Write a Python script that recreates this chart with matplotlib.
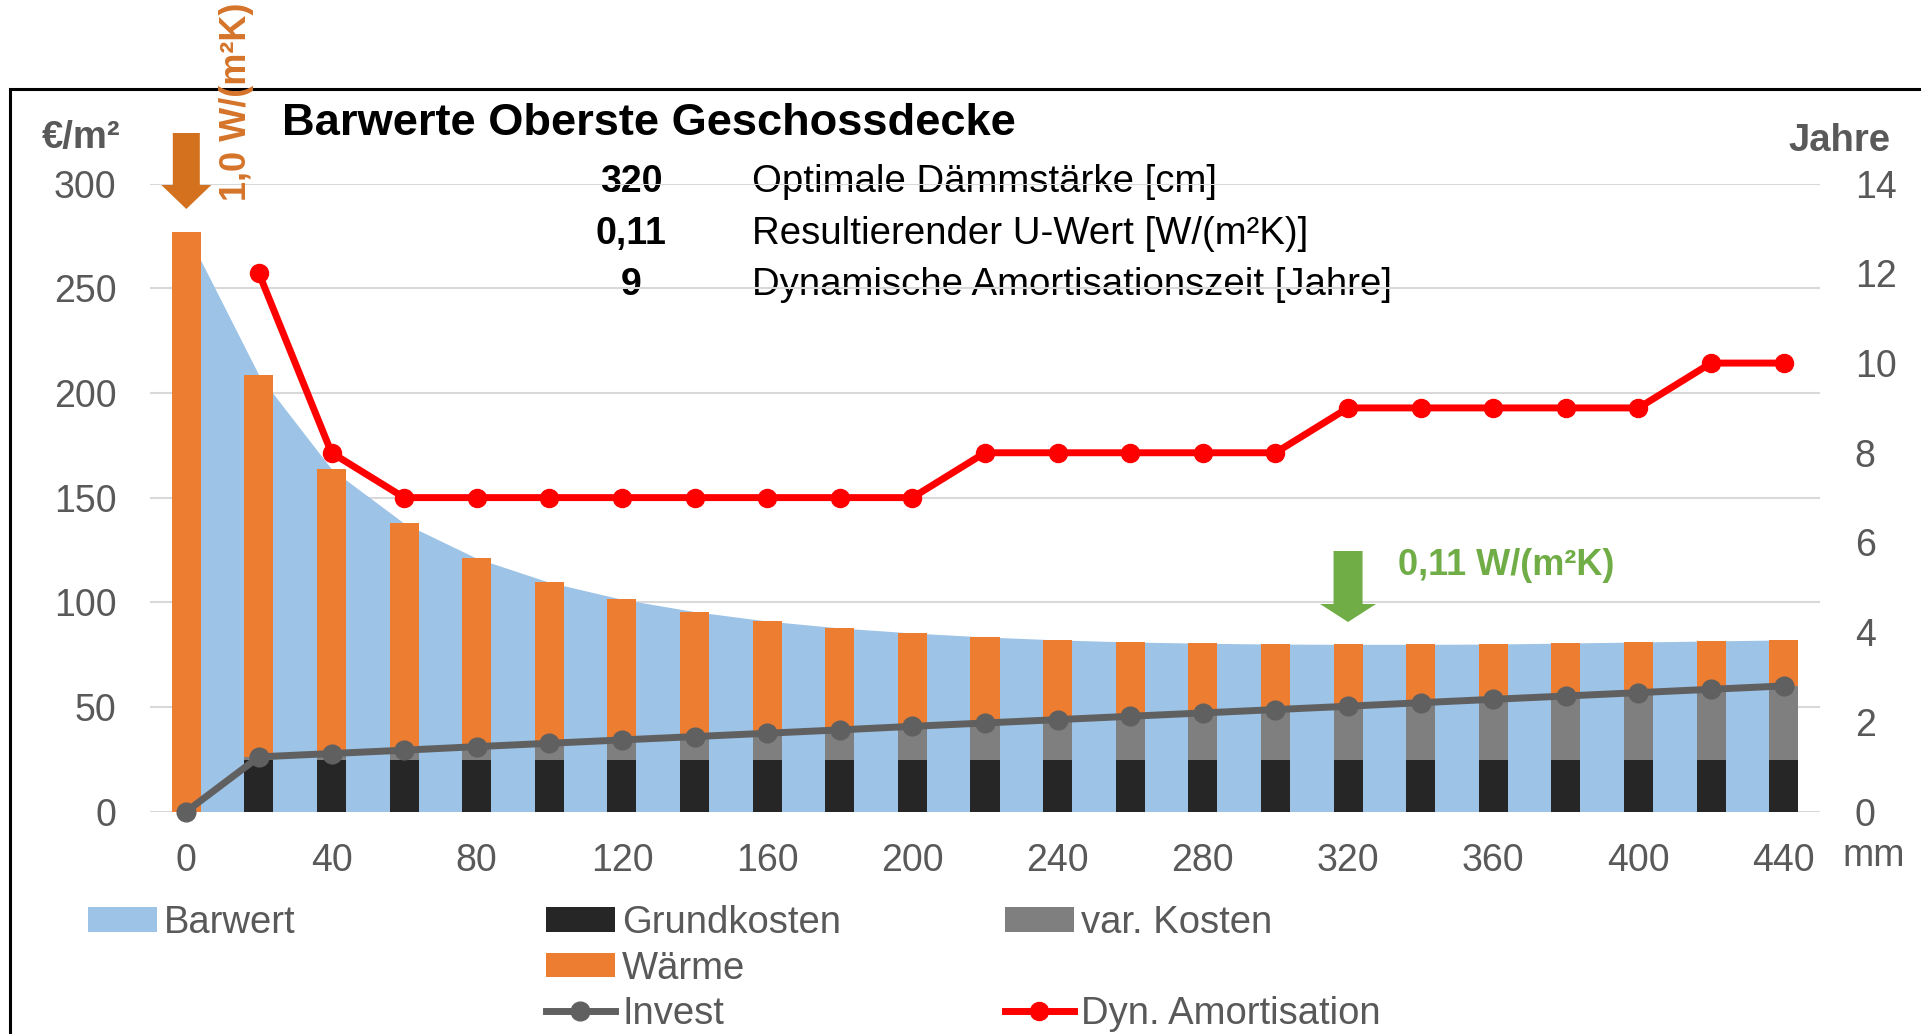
import numpy as np
import matplotlib
matplotlib.use("Agg")
import matplotlib.pyplot as plt
from matplotlib.patches import Polygon, Rectangle, Patch
from matplotlib.lines import Line2D

plt.rcParams.update({"font.family": "Liberation Sans", "font.size": 27})

W, H = 1921, 1034
BLUE = "#9DC3E6"; BLACK = "#262626"; GREY = "#7F7F7F"; ORANGE = "#ED7D31"
INV = "#606060"; RED = "#FF0000"; TXT = "#595959"; GREEN = "#70AD47"; DARKOR = "#D5742A"

# ---- data ----
daemmung = [0, 20, 40, 60, 80, 100, 120, 140, 160, 180, 200, 220,
            240, 260, 280, 300, 320, 340, 360, 380, 400, 420, 440]
barwert = [277.0, 208.5, 163.6, 137.7, 121.0, 109.5, 101.4, 95.5, 91.0, 87.7, 85.3, 83.4,
           82.0, 81.0, 80.4, 80.0, 79.9, 79.9, 80.0, 80.5, 81.0, 81.5, 82.0]
grundkosten = [0.0, 24.4, 24.4, 24.4, 24.4, 24.4, 24.4, 24.4, 24.4, 24.4, 24.4, 24.4,
               24.4, 24.4, 24.4, 24.4, 24.4, 24.4, 24.4, 24.4, 24.4, 24.4, 24.4]
var_kosten = [0.0, 1.7, 3.3, 4.9, 6.6, 8.2, 9.8, 11.4, 13.0, 14.6, 16.3, 17.9,
              19.5, 21.1, 22.7, 24.3, 25.9, 27.6, 29.2, 30.8, 32.4, 34.0, 35.6]
waerme = [277.0, 182.4, 135.9, 108.4, 90.0, 76.9, 67.2, 59.7, 53.6, 48.7, 44.6, 41.1,
          38.1, 35.5, 33.3, 31.3, 29.6, 27.9, 26.4, 25.3, 24.2, 23.1, 22.0]
invest = [0.0, 26.1, 27.7, 29.3, 31.0, 32.6, 34.2, 35.8, 37.4, 39.0, 40.7, 42.3,
          43.9, 45.5, 47.1, 48.7, 50.3, 52.0, 53.6, 55.2, 56.8, 58.4, 60.0]
amortisation = [np.nan, 12, 8, 7, 7, 7, 7, 7, 7, 7, 7, 8,
                8, 8, 8, 8, 9, 9, 9, 9, 9, 10, 10]
x_ticks = [0, 40, 80, 120, 160, 200, 240, 280, 320, 360, 400, 440]
y_ticks = [0, 50, 100, 150, 200, 250, 300]
y2_ticks = [0, 2, 4, 6, 8, 10, 12, 14]
info_nums = ["320", "0,11", "9"]
info_labels = ["Optimale Dämmstärke [cm]", "Resultierender U-Wert [W/(m²K)]",
               "Dynamische Amortisationszeit [Jahre]"]
opt_d = 320

def fx(x): return x / W
def fy(y): return 1 - y / H

fig = plt.figure(figsize=(W / 100, H / 100), dpi=100)
AX_L, AX_R, AX_T, AX_B = 150, 1820, 183.7, 811.5
ax = fig.add_axes([fx(AX_L), fy(AX_B), (AX_R - AX_L) / W, (AX_B - AX_T) / H])
ax.set_xlim(-10, 450); ax.set_ylim(0, 300)
ax.set_axisbelow(True)
ax.grid(axis="y", color="#D9D9D9", lw=1.5)
for s in ax.spines.values(): s.set_visible(False)

ax.fill_between(daemmung, barwert, color=BLUE, lw=0, zorder=1)
bw = 8
ax.bar(daemmung, grundkosten, bw, color=BLACK, zorder=2)
ax.bar(daemmung, var_kosten, bw, bottom=grundkosten, color=GREY, zorder=2)
ax.bar(daemmung, waerme, bw, bottom=np.add(grundkosten, var_kosten), color=ORANGE, zorder=2)
ax.plot(daemmung, invest, color=INV, lw=5, marker="o", ms=13.5, zorder=3, clip_on=False)

ax.set_xticks(x_ticks); ax.set_yticks(y_ticks)
ax.tick_params(length=0, colors=TXT, labelsize=27)
ax.tick_params(axis="y", pad=24); ax.tick_params(axis="x", pad=23)

ax2 = ax.twinx()
ax2.set_ylim(0, 14); ax2.set_yticks(y2_ticks)
for s in ax2.spines.values(): s.set_visible(False)
ax2.tick_params(length=0, colors=TXT, labelsize=27, pad=25)
ax2.plot(daemmung, amortisation, color=RED, lw=5, marker="o", ms=13)

# info block (sits under the gridlines like in the original)
for i, (num, lab) in enumerate(zip(info_nums, info_labels)):
    yb = 192 + 51.5 * i
    ax.text(fx(631), fy(yb), num, ha="center", va="baseline", fontsize=27, fontweight="bold",
            color="black", transform=fig.transFigure, zorder=0.2)
    ax.text(fx(752), fy(yb), lab, ha="left", va="baseline", fontsize=27.6,
            color="black", transform=fig.transFigure, zorder=0.2)

fig.text(fx(282), fy(135), "Barwerte Oberste Geschossdecke", fontsize=32.6, fontweight="bold",
         va="baseline", color="black")
fig.text(fx(42), fy(148), "€/m²", fontsize=27.5, fontweight="bold", color=TXT, va="baseline")
fig.text(fx(1788), fy(151), "Jahre", fontsize=27.5, fontweight="bold", color=TXT, va="baseline")
fig.text(fx(1842), fy(866), "mm", fontsize=27, color=TXT, va="baseline")

# arrows + U-value labels
def xpix(d):
    return AX_L + (d + 10) / 460 * (AX_R - AX_L)

def down_arrow(cx, y0, yh, y1, sw, hw, color):
    pts = [(cx - sw, y0), (cx + sw, y0), (cx + sw, yh), (cx + hw, yh), (cx, y1),
           (cx - hw, yh), (cx - sw, yh)]
    fig.add_artist(Polygon([(fx(a), fy(b)) for a, b in pts], closed=True, fc=color, ec="none",
                           transform=fig.transFigure, zorder=5))

down_arrow(xpix(daemmung[0]), 133, 185, 209, 13.5, 25, "#D4711E")
fig.text(fx(237), fy(201), "1,0 W/(m²K)", rotation=90, ha="center", va="bottom",
         fontsize=26, fontweight="bold", color=DARKOR, zorder=6)
down_arrow(xpix(opt_d), 551, 604, 622, 14.5, 28, GREEN)
fig.text(fx(1398), fy(575), "0,11 W/(m²K)", fontsize=26, fontweight="bold", color=GREEN,
         va="baseline")

# frame around chart
fig.add_artist(Rectangle((fx(9.8), -0.1), 2, fy(89.3) + 0.1, fill=False, ec="black", lw=2.2,
                         transform=fig.transFigure, zorder=1))

# legend, three columns like the Excel layout
lkw = dict(frameon=False, fontsize=27.5, labelcolor=TXT, handlelength=1.8, handleheight=0.6,
           handletextpad=0.19, labelspacing=0.25, borderpad=0, borderaxespad=0, loc="upper left")
lw_inv = Line2D([], [], color=INV, lw=5, marker="o", ms=13.5)
lw_red = Line2D([], [], color=RED, lw=5, marker="o", ms=13)
blank = Patch(fc="none", ec="none")
fig.legend([Patch(fc=BLUE)], ["Barwert"], bbox_to_anchor=(fx(88), fy(905)), **lkw)
fig.legend([Patch(fc=BLACK), Patch(fc=ORANGE), lw_inv], ["Grundkosten", "Wärme", "Invest"],
           bbox_to_anchor=(fx(546), fy(905)), **lkw)
fig.legend([Patch(fc=GREY), blank, lw_red], ["var. Kosten", " ", "Dyn. Amortisation"],
           bbox_to_anchor=(fx(1005), fy(905)), **lkw)

fig.savefig("out.png", dpi=100)
